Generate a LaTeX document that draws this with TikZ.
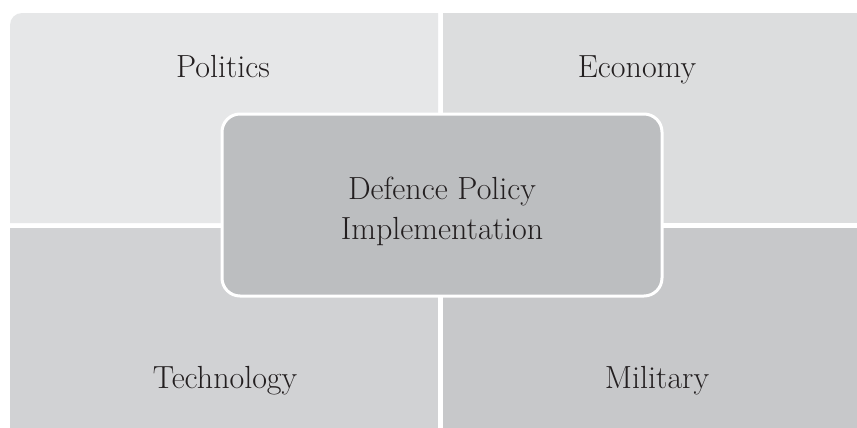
\documentclass[tikz,border=0pt]{standalone}
\usepackage{fontspec}
\setmainfont{Latin Modern Roman}

\definecolor{quadTL}{HTML}{E6E7E8}
\definecolor{quadTR}{HTML}{DCDDDE}
\definecolor{quadBL}{HTML}{D1D2D4}
\definecolor{quadBR}{HTML}{C7C8CA}
\definecolor{coreFill}{HTML}{BCBEC0}
\definecolor{inkText}{HTML}{231F20}

\tikzset{
	quadlabel/.style={anchor=base,text=inkText,font=\fontsize{16}{19}\selectfont},
	corebox/.style={draw=white,line width=1.5pt,fill=coreFill,rounded corners=9pt,
		minimum width=220pt,minimum height=91pt},
	coretext/.style={align=center,text=inkText,font=\fontsize{16}{20}\selectfont},
}

\begin{document}
\begin{tikzpicture}[
		x={(0.5pt,0pt)},
		y={(0pt,-0.5pt)},
	]
		\useasboundingbox[fill=white] (0,0) rectangle (857,428);
		
		% four quadrants
		\fill[quadTL] (438,223) -- (10,223) [rounded corners=6pt] -- (10,13) [sharp corners] -- (438,13) -- cycle;
		\fill[quadTR] (443,13) rectangle (857,223);
		\fill[quadBL] (10,228) rectangle (438,428);
		\fill[quadBR] (443,228) rectangle (857,428);
		
		\foreach \n/\t/\px/\py in {politics/Politics/223/77, economy/Economy/637/77, technology/Technology/225/388, military/Military/657/388}{
			\node[quadlabel] (\n) at(\px,\py) {\t};
		}
		
		% centre
		\node[corebox] (policy) at(442,205) {};
		\node[coretext] (policytext) at(442,211) {Defence Policy\\Implementation};
	\end{tikzpicture}
\end{document}
